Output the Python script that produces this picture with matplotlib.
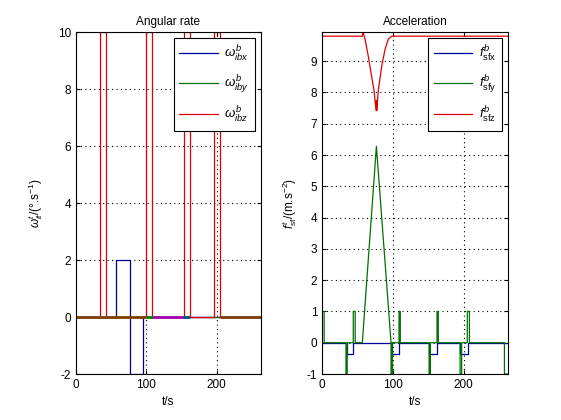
import matplotlib
matplotlib.use("Agg")
import matplotlib.pyplot as plt

plt.rcParams['font.family'] = ['Liberation Sans', 'DejaVu Sans']
plt.rcParams['mathtext.fontset'] = 'custom'
plt.rcParams['mathtext.rm'] = 'Liberation Sans'
plt.rcParams['mathtext.it'] = 'Liberation Sans:italic'
plt.rcParams['font.size'] = 8.5
plt.rcParams['axes.unicode_minus'] = False

# angular rate (deg/s), step data
t_wx = [0, 56.7, 76.5, 96, 263]
wx = [0, 2, -2, 0, 0]
t_wy = [0, 263]
wy = [0, 0]
t_wz = [0, 34.5, 43, 99.3, 108.7, 153.2, 162.6, 196.6, 205.1, 263]
wz = [0, 10, 0, 10, 0, 10, 0, 10, 0, 0]
# coloured pieces of the zero line (start, end, colour)
zero_segs = [(0, 100, '#7f4000'), (100, 110, '#008000'), (110, 153, '#a000b0'),
             (153, 162, '#005080'), (205, 263, '#7f4000')]

# specific force (m/s^2)
t_fx = [0, 34.5, 43.8, 99, 109, 151, 162.6, 195, 205.7, 263]
fx = [0, -0.35, 0, -0.35, 0, -0.35, 0, -0.35, 0, 0]
t_fy = [0, 2.6, 2.6, 33.5, 33.5, 35.2, 35.2, 43.8, 43.8, 46.5, 46.5, 56.6, 76.5, 97.2,
        97.2, 99, 99, 108.5, 108.5, 110.3, 110.3, 151, 151, 152.8, 152.8, 162.2, 162.2,
        164, 164, 194.8, 194.8, 197, 197, 205, 205, 208, 208, 257.5, 257.5, 263]
fy = [1, 1, 0, 0, -1, -1, 0, 0, 1, 1, 0, 0, 6.28, 0,
      -1, -1, 0, 0, 1, 1, 0, 0, -1, -1, 0, 0, 1,
      1, 0, 0, -1, -1, 0, 0, 1, 1, 0, 0, -1, -1]
t_fz = [0, 56.6, 57.5, 60.4, 65, 68.9, 73.1, 76, 76.5, 77, 79.2, 84, 88.7, 93.4, 98.2, 263]
fz = [9.8, 9.8, 9.94, 9.71, 9.16, 8.62, 8.07, 7.42, 7.75, 7.42, 8.07, 8.84, 9.38, 9.71, 9.8, 9.8]

fig = plt.figure(figsize=(5.61, 4.2), dpi=100)
ax1 = fig.add_axes([0.135, 0.1095, 0.330, 0.814])
ax2 = fig.add_axes([0.5745, 0.1095, 0.3316, 0.814])

ax1.plot(t_wx, wx, color='#0000a0', lw=0.9, drawstyle='steps-post', label=r'$\omega^b_{ibx}$')
ax1.plot(t_wy, wy, color='#007000', lw=0.9, drawstyle='steps-post', label=r'$\omega^b_{iby}$')
ax1.plot(t_wz, wz, color='#e00000', lw=0.9, drawstyle='steps-post', label=r'$\omega^b_{ibz}$')
for a, b, c in zero_segs:
    ax1.plot([a, b], [0, 0], color=c, lw=2, solid_capstyle='butt')
ax1.set_xlim(0, 263)
ax1.set_ylim(-2, 10)
ax1.set_yticks([-2, 0, 2, 4, 6, 8, 10])
ax1.set_title('Angular rate', fontsize=8.5, pad=5)
ax1.set_xlabel('t/s')
ax1.set_ylabel(r'$\omega^t_{it}$/(°.s$^{-1}$)', labelpad=9)

ax2.plot(t_fx, fx, color='#0000a0', lw=0.9, drawstyle='steps-post', label=r'$f^b_{\rm sfx}$')
ax2.plot(t_fy, fy, color='#007000', lw=0.9, label=r'$f^b_{\rm sfy}$')
ax2.plot(t_fz, fz, color='#e00000', lw=0.9, label=r'$f^b_{\rm sfz}$')
ax2.set_xlim(0, 263)
ax2.set_ylim(-1, 9.93)
ax2.set_yticks(range(-1, 10))
ax2.set_title('Acceleration', fontsize=8.5, pad=5)
ax2.set_xlabel('t/s')
ax2.set_ylabel(r'$f^t_{\rm sf}$/(m.s$^{-2}$)', labelpad=6)

for ax in (ax1, ax2):
    ax.set_xticks([0, 100, 200])
    ax.grid(True, color='black', linestyle=(0, (1, 3)), linewidth=0.8)
    ax.tick_params(direction='in', top=True, right=True, length=3, labelsize=8.5)
    for s in ax.spines.values():
        s.set_linewidth(0.8)
    leg = ax.legend(loc='upper right', fancybox=False, edgecolor='black', framealpha=1,
                    handlelength=2.9, handletextpad=0.5, labelspacing=0.7, borderpad=0.45,
                    fontsize=9.5, borderaxespad=0.45)
    leg.get_frame().set_linewidth(0.8)

fig.savefig('out.png', dpi=100)
